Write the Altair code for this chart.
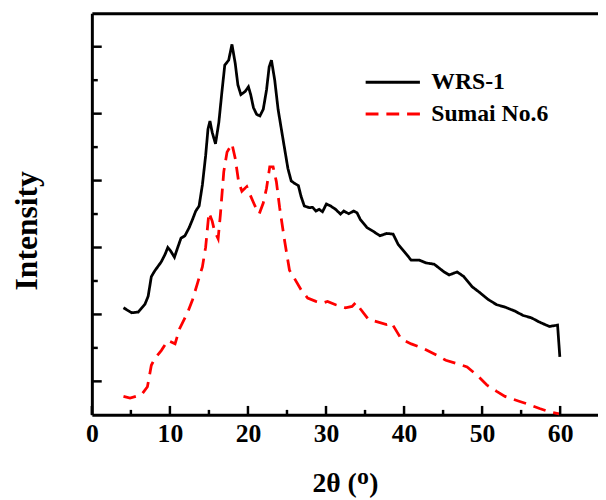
import altair as alt
import pandas as pd

series_names = ["WRS-1", "Sumai No.6"]

wrs_x = [4.05, 5.09, 5.94, 6.79, 7.21, 7.62, 8.05, 8.89, 9.39, 9.73, 10.08, 10.58, 11.0, 11.42, 11.92,
         12.48, 12.9, 13.31, 13.74, 14.16, 14.58, 14.88, 15.13, 15.42, 15.84, 16.27, 16.69, 17.03, 17.53,
         17.95, 18.37, 18.71, 19.09, 19.63, 20.06, 20.35, 20.7, 21.11, 21.53, 21.96, 22.38, 22.72, 23.01,
         23.43, 23.86, 24.49, 25.12, 25.54, 25.95, 26.46, 26.8, 27.22, 27.85, 28.28, 28.7, 29.12, 29.55,
         30.05, 30.6, 31.23, 31.86, 32.28, 32.91, 33.54, 33.97, 34.39, 35.23, 36.07, 36.92, 37.76, 38.6,
         39.23, 40.08, 40.92, 41.97, 42.82, 43.87, 45.13, 45.77, 46.81, 47.66, 48.71, 49.77, 50.82, 51.87,
         52.93, 54.2, 55.25, 56.3, 57.36, 58.62, 59.67, 59.96]
wrs_y = [3.2, 3.05, 3.07, 3.3, 3.54, 4.13, 4.3, 4.57, 4.8, 5.0, 4.9, 4.71, 5.0, 5.28, 5.35,
         5.6, 5.84, 6.09, 6.24, 6.87, 7.75, 8.54, 8.78, 8.44, 8.1, 8.74, 9.71, 10.45, 10.6,
         11.07, 10.5, 9.86, 9.57, 9.66, 9.8, 9.57, 9.18, 8.98, 8.93, 9.13, 9.71, 10.4, 10.6,
         10.0, 9.13, 8.24, 7.36, 6.99, 6.92, 6.85, 6.53, 6.24, 6.19, 6.2, 6.09, 6.14, 6.07,
         6.3, 6.24, 6.14, 6.0, 6.09, 6.01, 6.09, 6.04, 5.84, 5.6, 5.48, 5.35, 5.42, 5.4,
         5.1, 4.86, 4.62, 4.62, 4.54, 4.5, 4.27, 4.18, 4.27, 4.13, 3.83, 3.64, 3.44, 3.29,
         3.22, 3.1, 2.97, 2.9, 2.77, 2.64, 2.68, 1.73]

sumai_x = [4.05, 4.89, 6.36, 7.12, 7.62, 8.05, 8.89, 9.73, 10.66, 11.21, 12.26, 12.9, 13.53, 14.16,
           14.58, 15.0, 15.42, 15.71, 16.18, 16.47, 16.9, 17.32, 17.95, 18.37, 18.8, 19.22, 19.85,
           20.27, 20.9, 21.45, 21.96, 22.38, 22.79, 23.22, 23.64, 24.06, 24.69, 25.32, 25.95, 26.8,
           27.65, 28.7, 29.55, 30.2, 31.23, 32.49, 33.34, 33.84, 34.39, 35.44, 36.7, 37.76, 38.39,
           39.66, 40.92, 42.6, 44.29, 45.35, 46.81, 48.08, 49.56, 50.61, 51.87, 52.93, 54.83, 56.09,
           57.36, 58.62, 59.89]
sumai_y = [0.55, 0.5, 0.6, 0.84, 1.48, 1.68, 1.92, 2.22, 2.12, 2.56, 3.05, 3.44, 3.93, 4.42,
           5.01, 6.04, 5.79, 5.5, 5.26, 5.99, 7.26, 7.85, 8.1, 7.66, 6.97, 6.68, 6.82,
           6.58, 6.24, 6.01, 6.33, 6.77, 7.41, 7.41, 6.97, 6.19, 5.21, 4.32, 4.08, 3.74,
           3.49, 3.39, 3.34, 3.39, 3.29, 3.2, 3.24, 3.36, 3.17, 2.85, 2.77, 2.7, 2.75,
           2.26, 2.12, 1.97, 1.77, 1.63, 1.53, 1.43, 1.14, 0.89, 0.7, 0.55, 0.4, 0.3,
           0.19, 0.09, 0.03]

x_label_values = [0, 10, 20, 30, 40, 50, 60]
x_minor_values = [5, 15, 25, 35, 45, 55]
y_major_values = [1, 3, 5, 7, 9, 11]
y_minor_values = [2, 4, 6, 8, 10]

FONT = "Times New Roman, Liberation Serif, serif"
W, H = 513, 407

rows = []
for i, (a, b) in enumerate(zip(wrs_x, wrs_y)):
    rows.append({"x": a, "y": b, "series": series_names[0], "i": i})
for i, (a, b) in enumerate(zip(sumai_x, sumai_y)):
    rows.append({"x": a, "y": b, "series": series_names[1], "i": i})
df = pd.DataFrame(rows)

xscale = alt.Scale(domain=[0, 64.85], nice=False, zero=False)
yscale = alt.Scale(domain=[0, 12], nice=False, zero=False)

y_axis = alt.Axis(
    labels=False, ticks=False, grid=False, domainColor="black", domainWidth=3,
    title="Intensity", titleFont=FONT, titleFontSize=32, titleFontWeight="bold",
    titleColor="black", titlePadding=49, titleY=220)

legend = alt.Legend(
    title=None, orient="none", legendX=293, legendY=58,
    symbolType="M-5,0H5", symbolSize=121, symbolStrokeWidth=3,
    labelFont=FONT, labelFontSize=24, labelFontWeight="bold", labelColor="black",
    labelOffset=27, rowPadding=8, labelLimit=300,
)

lines = alt.Chart(df).mark_line(strokeWidth=2.8, strokeCap="butt").encode(
    x=alt.X("x:Q", scale=xscale, axis=alt.Axis(
        values=x_label_values, labelFont=FONT, labelFontSize=26, labelFontWeight="bold",
        labelColor="black", labelPadding=6, ticks=False, tickSize=0, grid=False,
        domainColor="black", domainWidth=3, labelFlush=False,
        title="2θ (ᴼ)", titleFont=FONT, titleFontSize=28, titleFontWeight="bold",
        titleColor="black", titlePadding=24)),
    y=alt.Y("y:Q", scale=yscale, axis=y_axis),
    color=alt.Color("series:N", scale=alt.Scale(domain=series_names, range=["#000000", "#ff0000"]), legend=legend),
    strokeDash=alt.StrokeDash("series:N", scale=alt.Scale(domain=series_names, range=[[1, 0], [13, 8]]), legend=legend),
    order="i:Q",
)

xmaj = alt.Chart(pd.DataFrame({"x": x_label_values})).mark_rule(color="black", strokeWidth=2.5).encode(
    x=alt.X("x:Q", scale=xscale, axis=alt.Axis(orient="top", labels=False, ticks=False, grid=False,
                                                title=None, domainColor="black", domainWidth=3)),
    y=alt.value(H), y2=alt.value(H - 9),
)
xmin = alt.Chart(pd.DataFrame({"x": x_minor_values})).mark_rule(color="black", strokeWidth=2.5).encode(
    x=alt.X("x:Q", scale=xscale, axis=None),
    y=alt.value(H), y2=alt.value(H - 5),
)
ymaj = alt.Chart(pd.DataFrame({"y": y_major_values})).mark_rule(color="black", strokeWidth=2.5).encode(
    y=alt.Y("y:Q", scale=yscale, axis=y_axis),
    x=alt.value(0), x2=alt.value(10),
)
ymin = alt.Chart(pd.DataFrame({"y": y_minor_values})).mark_rule(color="black", strokeWidth=2.5).encode(
    y=alt.Y("y:Q", scale=yscale, axis=y_axis),
    x=alt.value(0), x2=alt.value(6),
)

chart = alt.layer(lines, xmaj, xmin, ymaj, ymin).resolve_axis(x="independent").properties(
    width=W, height=H,
    autosize=alt.AutoSizeParams(type="none"),
    padding={"left": 85, "top": 2, "right": 0, "bottom": 83},
).configure_view(stroke=None)

chart.save("out.html", embed_options={"renderer": "svg", "actions": False})
